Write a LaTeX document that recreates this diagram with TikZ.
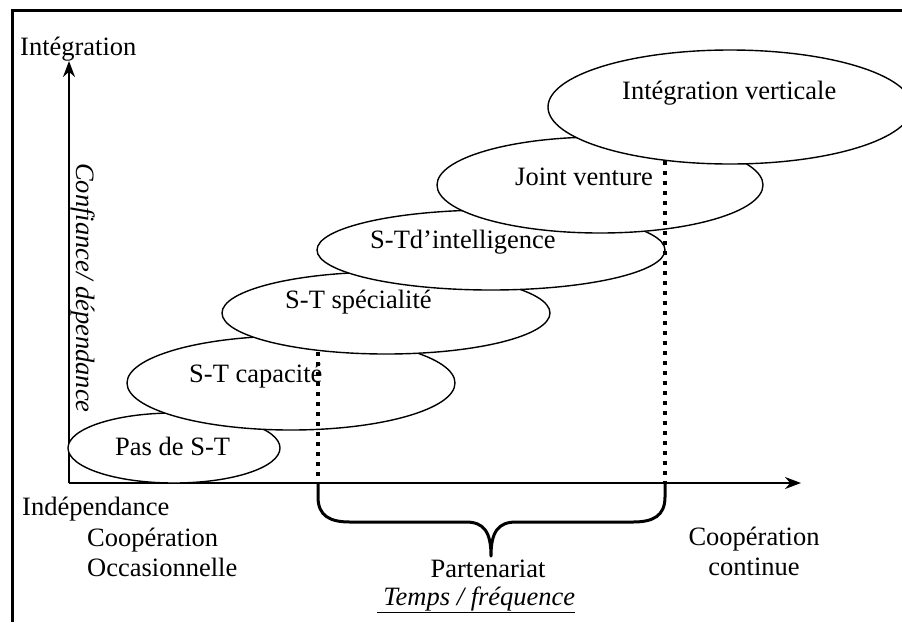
\documentclass[tikz,border=0pt]{standalone}
\usepackage{fontspec}
\setmainfont{Liberation Serif}
\usetikzlibrary{shapes.geometric,arrows.meta}

\tikzset{
  bubble/.style={ellipse, draw, fill=white, line width=1.4pt, inner sep=0pt},
  lbl/.style={inner sep=0pt, anchor=base west, font=\fontsize{26.5}{30}\selectfont},
  guide/.style={line width=4pt, dash pattern=on 4pt off 6pt},
  axis/.style={line width=2pt, -{Stealth[length=16pt,width=12pt]}},
}

\begin{document}
\begin{tikzpicture}[x=1pt, y=-1pt]
  \useasboundingbox (0,0) rectangle (902,622);
  % Frame (cut at right and bottom).
  \draw[line width=3pt] (12,622) -- (12,10) -- (902,10);

  % Axes.
  \coordinate (O) at (69,483);
  \coordinate (ytip) at (69,61);
  \coordinate (xtip) at (801,483);
  \draw[axis] (O) -- (ytip);
  \draw[axis] (O) -- (xtip);
  \node[lbl] (yname) at (20,55) {Intégration};
  \node[lbl, rotate=-90, font=\fontsize{26.5}{30}\selectfont\itshape] (ytitle) at (76,163) {Confiance/ dépendance};

  % Steps, from the bottom up.
  \node[bubble, minimum width=212pt, minimum height=70pt] (e1) at (174,448) {};
  \node[lbl] (t1) at (115,455) {Pas de S-T};
  \node[bubble, minimum width=328pt, minimum height=94pt] (e2) at (291,383) {};
  \node[lbl] (t2) at (189,382) {S-T capacité};
  \node[bubble, minimum width=328pt, minimum height=82pt] (e3) at (386,313) {};
  \node[lbl] (t3) at (285,308) {S-T spécialité};
  \node[bubble, minimum width=348pt, minimum height=80pt] (e4) at (491,250) {};
  \node[lbl] (t4) at (370,248) {S-Td’intelligence};
  \node[bubble, minimum width=326pt, minimum height=96pt] (e5) at (600,185) {};
  \node[lbl] (t5) at (515,185) {Joint venture};
  \node[bubble, minimum width=364pt, minimum height=114pt] (e6) at (730,107) {};
  \node[lbl] (t6) at (622,99) {Intégration verticale};

  % Dotted guides.
  \coordinate (g1top) at (318,352);
  \coordinate (g1bot) at (318,483);
  \coordinate (g2top) at (665,161);
  \coordinate (g2bot) at (665,483);
  \draw[guide] (g1top) -- (g1bot);
  \draw[guide] (g2top) -- (g2bot);

  % Brace under the axis.
  \draw[line width=3pt, line join=round] (g1bot) -- (318,497)
    .. controls (318,516) and (330,522) .. (350,522) -- (466,522)
    .. controls (484,522) and (491,532) .. (491,556)
    .. controls (491,532) and (498,522) .. (516,522) -- (633,522)
    .. controls (653,522) and (665,516) .. (665,497) -- (g2bot);

  % Labels under the axis.
  \node[lbl] (indep) at (22,515) {Indépendance};
  \node[lbl] (coop1) at (87,546) {Coopération};
  \node[lbl] (occ) at (87,576) {Occasionnelle};
  \node[lbl, anchor=base] (part) at (488,577) {Partenariat};
  \node[lbl, anchor=base] (tf) at (476,605) {\underline{\itshape\ Temps / fréquence}};
  \node[lbl, anchor=base] (coop2) at (754,545) {Coopération};
  \node[lbl, anchor=base] (cont) at (754,575) {continue};
\end{tikzpicture}
\end{document}
